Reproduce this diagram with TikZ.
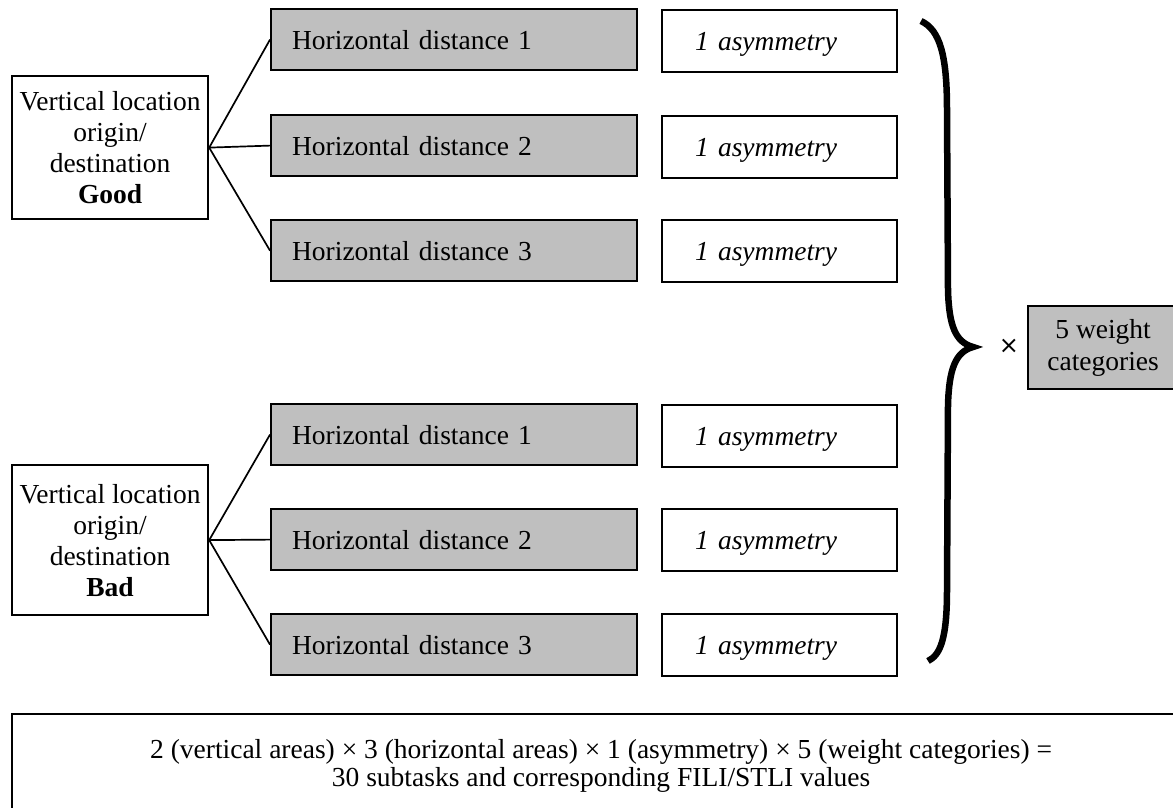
\documentclass[tikz,border=0pt]{standalone}
\usepackage{fontspec}
\setmainfont{Liberation Serif}
\newfontfamily\signfont{DejaVu Sans}
\usepackage{tikz}
\usetikzlibrary{calc}

\newcommand{\figfont}{\fontsize{27.5}{31}\selectfont}

\tikzset{
  hdist/.style={draw, line width=2.2pt, fill=black!25, anchor=north west,
    minimum width=366pt, minimum height=61pt, inner xsep=21pt,
    text width=324pt, align=left},
  asym/.style={draw, line width=2.2pt, anchor=north west,
    minimum width=235pt, minimum height=62pt, inner xsep=33pt,
    text width=169pt, text depth=0pt, align=left, font=\figfont\itshape},
  vloc/.style={draw, line width=2.2pt, anchor=north west,
    minimum width=196pt, inner sep=1pt, align=center},
  link/.style={line width=1.7pt}
}

\begin{document}
\begin{tikzpicture}[x=1pt, y=-1pt, font=\figfont]
  \clip (0,0) rectangle (1173,807);
  \fill[white] (0,0) rectangle (1173,807);

  % vertical location good
  \node[vloc, minimum height=143pt] (goodV) at (11,75)
    {Vertical location\\origin/\\destination\\\textbf{Good}};
  \node[hdist] (g1) at (270,8) {Horizontal distance 1};
  \node[hdist] (g2) at (270,114) {Horizontal distance 2};
  \node[hdist] (g3) at (270,219) {Horizontal distance 3};
  \node[asym] (ga1) at (661,9) {1 asymmetry};
  \node[asym] (ga2) at (661,115) {1 asymmetry};
  \node[asym] (ga3) at (661,219) {1 asymmetry};
  \draw[link] (goodV.east) -- (g1.west);
  \draw[link] (goodV.east) -- (g2.west);
  \draw[link] (goodV.east) -- (g3.west);

  % vertical location bad
  \node[vloc, minimum height=150pt] (badV) at (11,464)
    {Vertical location\\origin/\\destination\\\textbf{Bad}};
  \node[hdist] (b1) at (270,403) {Horizontal distance 1};
  \node[hdist] (b2) at (270,508) {Horizontal distance 2};
  \node[hdist] (b3) at (270,613) {Horizontal distance 3};
  \node[asym] (ba1) at (661,404) {1 asymmetry};
  \node[asym] (ba2) at (661,508) {1 asymmetry};
  \node[asym] (ba3) at (661,613) {1 asymmetry};
  \draw[link] (badV.east) -- (b1.west);
  \draw[link] (badV.east) -- (b2.west);
  \draw[link] (badV.east) -- (b3.west);

  % brace and weight categories
  \draw[line width=6.5pt] (921,21) .. controls (940,30) and (947,55) .. (947,110)
    -- (948,290) .. controls (949,325) and (955,342) .. (973,347)
    .. controls (955,352) and (949,370) .. (948,405)
    -- (947,590) .. controls (947,640) and (940,655) .. (928,661);
  \node[font=\signfont\fontsize{24}{24}\selectfont] (times) at (1009,346) {×};
  \node[draw, line width=2.2pt, fill=black!25, anchor=north west,
    minimum width=150pt, minimum height=83pt, align=center,
    font=\fontsize{27.5}{32}\selectfont] (weight) at (1027,305)
    {5 weight\\categories};

  % total
  \node[draw, line width=2.2pt, anchor=north west, minimum width=1178pt,
    minimum height=104pt, align=center,
    font=\fontsize{27.5}{28}\selectfont] (total) at (11,713)
    {2 (vertical areas) × 3 (horizontal areas) × 1 (asymmetry) × 5 (weight categories) =\\
     30 subtasks and corresponding FILI/STLI values};
\end{tikzpicture}
\end{document}
